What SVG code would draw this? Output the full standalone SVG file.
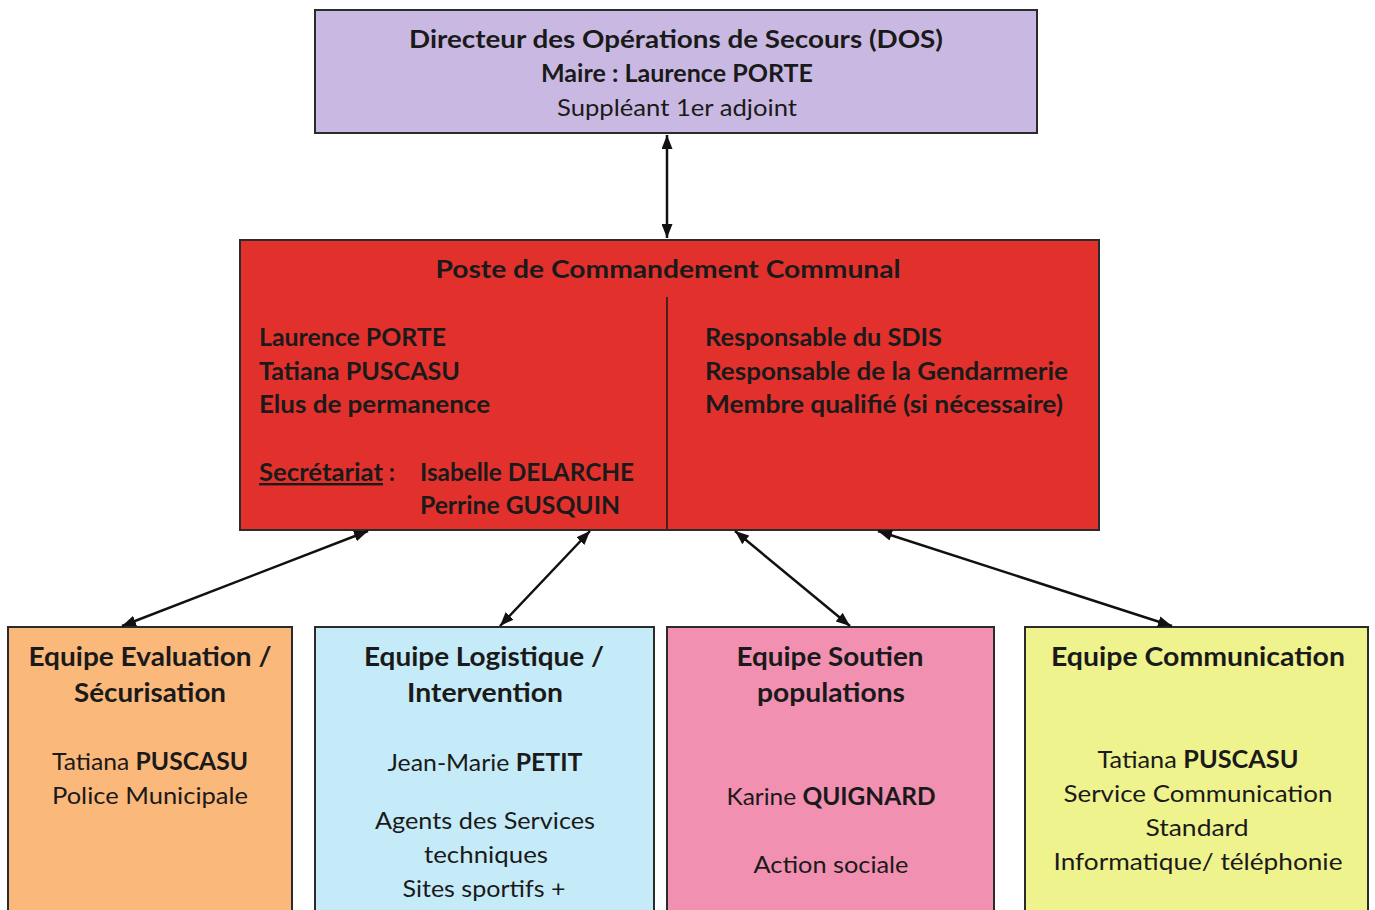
<svg xmlns="http://www.w3.org/2000/svg" width="1375" height="910" viewBox="0 0 1375 910">
<style>
text{font-family:Lato,"Open Sans","Liberation Sans",sans-serif;fill:#1a1a1a;font-size:24px}
.c{text-anchor:middle}
.b{font-weight:bold}
.t{font-size:26px;font-weight:bold}
.box{stroke:#2b2b2b;stroke-width:2}
.con{stroke:#111;stroke-width:2.5;fill:none;marker-start:url(#ah);marker-end:url(#ah)}
</style>
<defs>
<marker id="ah" viewBox="0 0 14 11" refX="14" refY="5.5" markerWidth="14" markerHeight="11" markerUnits="userSpaceOnUse" orient="auto-start-reverse">
<path d="M0,0 L14,5.5 L0,11 Z" fill="#111"/>
</marker>
</defs>
<rect width="1375" height="910" fill="#fff"/>

<g id="dos">
<rect class="box" x="315" y="10" width="722" height="123" fill="#c9b9e2"/>
<text class="c b" x="676" y="48" textLength="534" lengthAdjust="spacingAndGlyphs">Directeur des Opérations de Secours (DOS)</text>
<text class="c b" x="677" y="82" textLength="272" lengthAdjust="spacingAndGlyphs">Maire : Laurence PORTE</text>
<text class="c" x="677" y="116" textLength="240" lengthAdjust="spacingAndGlyphs">Suppléant 1er adjoint</text>
</g>

<g id="pcc">
<rect class="box" x="240" y="240" width="859" height="290" fill="#e2312c"/>
<line x1="667" y1="297" x2="667" y2="529" stroke="#1a1a1a" stroke-width="1.5"/>
<text class="c b" x="668" y="278" textLength="465" lengthAdjust="spacingAndGlyphs">Poste de Commandement Communal</text>
<text class="b" x="259" y="346" textLength="187" lengthAdjust="spacingAndGlyphs">Laurence PORTE</text>
<text class="b" x="259" y="380" textLength="201" lengthAdjust="spacingAndGlyphs">Tatiana PUSCASU</text>
<text class="b" x="259" y="413" textLength="231" lengthAdjust="spacingAndGlyphs">Elus de permanence</text>
<text class="b" x="259" y="481"><tspan style="text-decoration:underline" textLength="124" lengthAdjust="spacingAndGlyphs">Secrétariat</tspan> :</text>
<text class="b" x="420" y="481" textLength="214" lengthAdjust="spacingAndGlyphs">Isabelle DELARCHE</text>
<text class="b" x="420" y="514" textLength="200" lengthAdjust="spacingAndGlyphs">Perrine GUSQUIN</text>
<text class="b" x="705" y="346" textLength="237" lengthAdjust="spacingAndGlyphs">Responsable du SDIS</text>
<text class="b" x="705" y="380" textLength="363" lengthAdjust="spacingAndGlyphs">Responsable de la Gendarmerie</text>
<text class="b" x="705" y="413" textLength="358" lengthAdjust="spacingAndGlyphs">Membre qualifié (si nécessaire)</text>
</g>

<g id="eval">
<rect class="box" x="8" y="627" width="284" height="300" fill="#fbb87b"/>
<text class="c t" x="150" y="666" textLength="243" lengthAdjust="spacingAndGlyphs">Equipe Evaluation /</text>
<text class="c t" x="150" y="702" textLength="152" lengthAdjust="spacingAndGlyphs">Sécurisation</text>
<text class="c" x="150" y="770" textLength="196" lengthAdjust="spacingAndGlyphs">Tatiana <tspan class="b">PUSCASU</tspan></text>
<text class="c" x="150" y="804" textLength="196" lengthAdjust="spacingAndGlyphs">Police Municipale</text>
</g>

<g id="logistique">
<rect class="box" x="315" y="627" width="339" height="300" fill="#c6ebf8"/>
<text class="c t" x="484" y="666" textLength="240" lengthAdjust="spacingAndGlyphs">Equipe Logistique /</text>
<text class="c t" x="485" y="702" textLength="156" lengthAdjust="spacingAndGlyphs">Intervention</text>
<text class="c" x="485" y="771" textLength="195" lengthAdjust="spacingAndGlyphs">Jean-Marie <tspan class="b">PETIT</tspan></text>
<text class="c" x="485" y="829" textLength="220" lengthAdjust="spacingAndGlyphs">Agents des Services</text>
<text class="c" x="486" y="863" textLength="124" lengthAdjust="spacingAndGlyphs">techniques</text>
<text class="c" x="484" y="897" textLength="163" lengthAdjust="spacingAndGlyphs">Sites sportifs +</text>
</g>

<g id="soutien">
<rect class="box" x="667" y="627" width="327" height="300" fill="#f290b2"/>
<text class="c t" x="830" y="666" textLength="187" lengthAdjust="spacingAndGlyphs">Equipe Soutien</text>
<text class="c t" x="831" y="702" textLength="148" lengthAdjust="spacingAndGlyphs">populations</text>
<text class="c" x="831" y="805" textLength="209" lengthAdjust="spacingAndGlyphs">Karine <tspan class="b">QUIGNARD</tspan></text>
<text class="c" x="831" y="873" textLength="155" lengthAdjust="spacingAndGlyphs">Action sociale</text>
</g>

<g id="communication">
<rect class="box" x="1025" y="627" width="343" height="300" fill="#eef38e"/>
<text class="c t" x="1198" y="666" textLength="294" lengthAdjust="spacingAndGlyphs">Equipe Communication</text>
<text class="c" x="1198" y="768" textLength="201" lengthAdjust="spacingAndGlyphs">Tatiana <tspan class="b">PUSCASU</tspan></text>
<text class="c" x="1198" y="802" textLength="269" lengthAdjust="spacingAndGlyphs">Service Communication</text>
<text class="c" x="1197" y="836" textLength="103" lengthAdjust="spacingAndGlyphs">Standard</text>
<text class="c" x="1198" y="870" textLength="289" lengthAdjust="spacingAndGlyphs">Informatique/ téléphonie</text>
</g>

<g id="connectors">
<path class="con" d="M667,135 L667,238"/>
<path class="con" d="M368,531 L122,626"/>
<path class="con" d="M590,531 L500,626"/>
<path class="con" d="M735,531 L850,626"/>
<path class="con" d="M878,531 L1172,626"/>
</g>
</svg>
